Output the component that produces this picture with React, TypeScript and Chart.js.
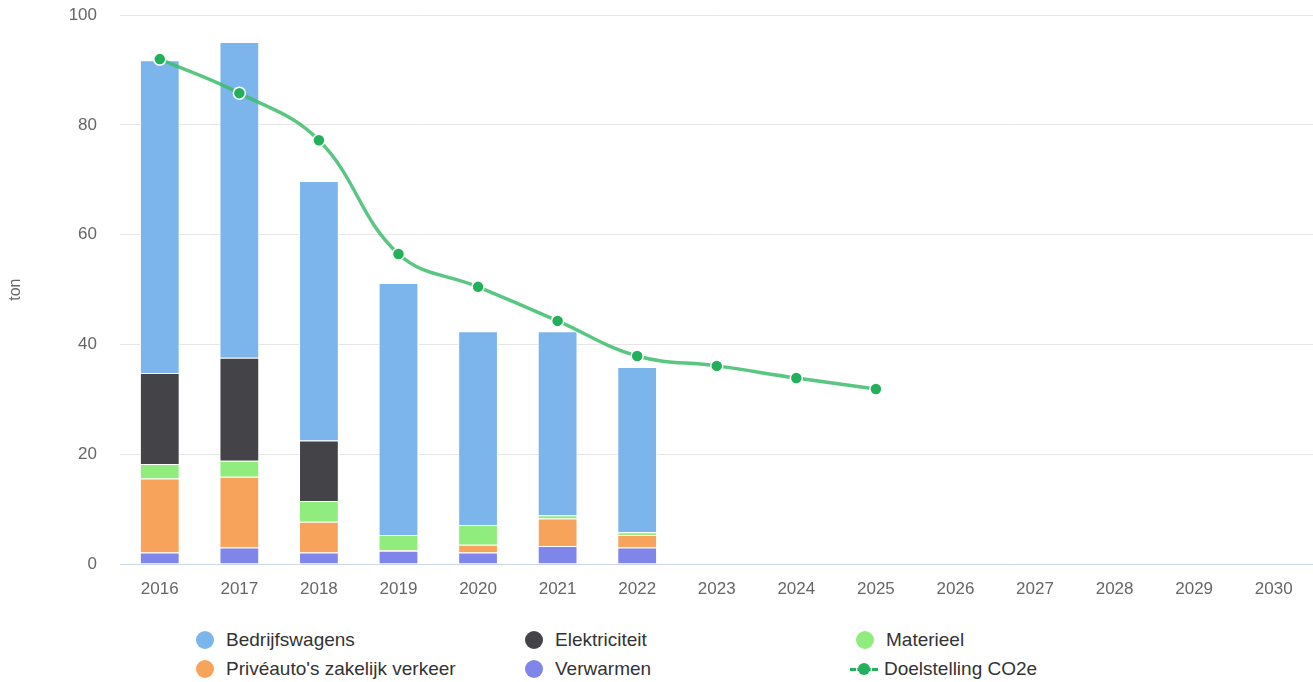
import React, { useEffect, useRef } from "react";
import { Chart, registerables } from "chart.js";

Chart.register(...registerables);

const years = ["2016","2017","2018","2019","2020","2021","2022","2023","2024","2025","2026","2027","2028","2029","2030"];
const verwarmen = [2.1, 3.0, 2.1, 2.4, 2.1, 3.3, 3.0];
const priveauto = [13.5, 12.9, 5.6, 0.1, 1.4, 5.0, 2.3];
const materieel = [2.6, 2.9, 3.8, 2.8, 3.6, 0.6, 0.5];
const elektriciteit = [16.6, 18.8, 11.0, 0, 0, 0, 0];
const bedrijfswagens = [57.0, 57.5, 47.3, 45.9, 35.3, 33.5, 30.1];
const doelstelling = [92.0, 85.8, 77.2, 56.5, 50.5, 44.3, 37.9, 36.1, 33.9, 31.9, null, null, null, null, null];

const C_BEDR = "#7cb5ec";
const C_ELEK = "#434348";
const C_MAT = "#90ed7d";
const C_PRIVE = "#f7a35c";
const C_VERW = "#8085e9";
const C_DOEL = "#22b05a";

const FONT = "'Liberation Sans', Arial, sans-serif";

const legendItems = [
  { label: "Bedrijfswagens", color: C_BEDR, x: 196, y: 640, type: "dot" },
  { label: "Elektriciteit", color: C_ELEK, x: 525, y: 640, type: "dot" },
  { label: "Materieel", color: C_MAT, x: 856, y: 640, type: "dot" },
  { label: "Privéauto's zakelijk verkeer", color: C_PRIVE, x: 196, y: 669, type: "dot" },
  { label: "Verwarmen", color: C_VERW, x: 525, y: 669, type: "dot" },
  { label: "Doelstelling CO2e", color: C_DOEL, x: 850, y: 669, type: "line" },
];

export default function App() {
  const ref = useRef<HTMLCanvasElement | null>(null);

  useEffect(() => {
    if (!ref.current) return;
    const barCommon = {
      type: "bar" as const,
      stack: "s",
      borderColor: "#ffffff",
      borderWidth: 1,
      barPercentage: 0.5,
      categoryPercentage: 1,
      order: 2,
    };
    const chart = new Chart(ref.current, {
      type: "bar",
      data: {
        labels: years,
        datasets: [
          { ...barCommon, label: "Verwarmen", data: verwarmen, backgroundColor: C_VERW },
          { ...barCommon, label: "Privéauto's zakelijk verkeer", data: priveauto, backgroundColor: C_PRIVE },
          { ...barCommon, label: "Materieel", data: materieel, backgroundColor: C_MAT },
          { ...barCommon, label: "Elektriciteit", data: elektriciteit, backgroundColor: C_ELEK },
          { ...barCommon, label: "Bedrijfswagens", data: bedrijfswagens, backgroundColor: C_BEDR },
          {
            type: "line" as const,
            label: "Doelstelling CO2e",
            data: doelstelling as any,
            borderColor: "rgba(60,188,108,0.85)",
            borderWidth: 3.5,
            tension: 0.4,
            pointRadius: 6,
            pointBackgroundColor: C_DOEL,
            pointBorderColor: "#ffffff",
            pointBorderWidth: 1.5,
            order: 0,
            spanGaps: false,
          } as any,
        ],
      },
      options: {
        responsive: false,
        animation: false,
        layout: { padding: { top: 15, left: 0, right: 0, bottom: 0 } },
        plugins: { legend: { display: false }, tooltip: { enabled: false } },
        scales: {
          x: {
            stacked: true,
            grid: { display: true, drawOnChartArea: false, drawTicks: true, tickLength: 12, tickColor: "rgba(0,0,0,0)", color: "rgba(0,0,0,0)" },
            border: { display: true, color: "#ccd6eb", width: 1 },
            ticks: { color: "#666666", font: { family: FONT, size: 17 }, padding: 3 },
            afterFit: (s: any) => { s.height = 51; },
          },
          y: {
            stacked: true,
            min: 0,
            max: 100,
            ticks: { stepSize: 20, color: "#666666", font: { family: FONT, size: 17 }, padding: 5 },
            grid: { color: "#e6e6e6", drawTicks: true, tickLength: 18, tickColor: "rgba(0,0,0,0)" },
            border: { display: false },
            title: { display: true, text: "ton", color: "#666666", font: { family: FONT, size: 16 }, padding: { top: 6, bottom: 0 } },
            afterFit: (s: any) => { s.width = 120; },
          },
        },
      },
    } as any);
    return () => chart.destroy();
  }, []);

  return (
    <div style={{ position: "absolute", left: 0, top: 0, width: 1313, height: 682, background: "#fff", fontFamily: FONT, overflow: "hidden" }}>
      <canvas ref={ref} width={1321} height={615} style={{ width: 1321, height: 615, display: "block" }} />
      {legendItems.map((it) => (
        <div key={it.label} style={{ position: "absolute", left: it.x, top: it.y - 12, height: 24, display: "flex", alignItems: "center", whiteSpace: "nowrap" }}>
          {it.type === "dot" ? (
            <div style={{ width: 18, height: 18, borderRadius: 9, background: it.color, marginRight: 12 }} />
          ) : (
            <div style={{ position: "relative", width: 28, height: 18, marginRight: 6 }}>
              <div style={{ position: "absolute", left: 0, top: 8, width: 28, height: 0, borderTop: `3px dashed ${it.color}` }} />
              <div style={{ position: "absolute", left: 8, top: 3, width: 12, height: 12, borderRadius: 6, background: it.color }} />
            </div>
          )}
          <span style={{ fontSize: 19, color: "#333333" }}>{it.label}</span>
        </div>
      ))}
    </div>
  );
}
